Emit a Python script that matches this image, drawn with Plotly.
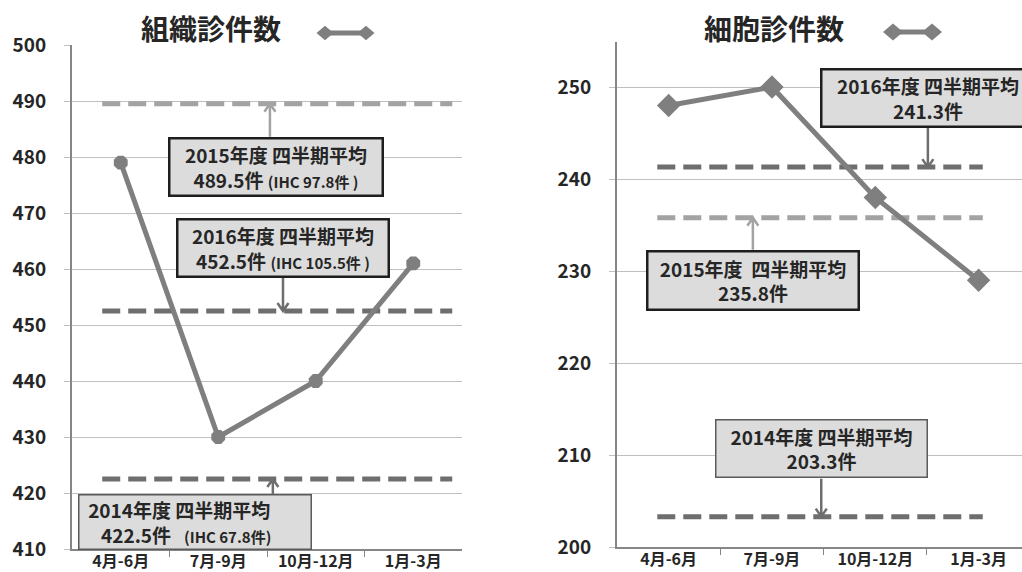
import plotly.graph_objects as go

W, H = 1022, 572
FONT = "Noto Sans CJK JP"
TXT = "#262626"

# Quarterly case counts
quarters = ["4月-6月", "7月-9月", "10月-12月", "1月-3月"]
histology = [479, 430, 440, 461]
cytology = [248, 250, 238, 229]

# Fiscal-year quarterly averages
years = [2014, 2015, 2016]
histology_avg = [422.5, 489.5, 452.5]
histology_ihc = [67.8, 97.8, 105.5]
cytology_avg = [203.3, 235.8, 241.3]

LINE = "#7f7f7f"
DARK_DASH = "#6e6e6e"
LIGHT_DASH = "#a3a3a3"
avg_colors = [DARK_DASH, LIGHT_DASH, DARK_DASH]


def px(x):
    return x / W


def py(y):
    return 1 - y / H


fig = go.Figure()
xs = list(range(len(quarters)))

# average lines (dashed)
for v, c in zip(histology_avg, avg_colors):
    fig.add_trace(go.Scatter(x=[-0.19, 3.40], y=[v, v], mode="lines",
                             line=dict(color=c, width=5, dash="18px,8px"),
                             xaxis="x", yaxis="y", hoverinfo="skip"))
for v, c in zip(cytology_avg, avg_colors):
    fig.add_trace(go.Scatter(x=[-0.11, 3.04], y=[v, v], mode="lines",
                             line=dict(color=c, width=5, dash="18px,8px"),
                             xaxis="x2", yaxis="y2", hoverinfo="skip"))

# quarterly series
fig.add_trace(go.Scatter(x=xs, y=histology, mode="lines+markers",
                         line=dict(color=LINE, width=5),
                         marker=dict(symbol="octagon", size=15, color=LINE),
                         xaxis="x", yaxis="y"))
fig.add_trace(go.Scatter(x=xs, y=cytology, mode="lines+markers",
                         line=dict(color=LINE, width=5),
                         marker=dict(symbol="diamond", size=18, color=LINE),
                         xaxis="x2", yaxis="y2"))

grid = "#c0c0c0"
axis_line = "#868686"
tickfont = dict(family=FONT, size=19, color=TXT, weight="bold")
xtickfont = dict(family=FONT, size=16, color=TXT, weight="bold")


def xaxis(domain, rng, anchor):
    return dict(domain=domain, range=rng, anchor=anchor, automargin=False,
                tickmode="array", tickvals=xs,
                ticktext=quarters, showgrid=False, zeroline=False,
                showline=True, linecolor=axis_line, linewidth=1.5,
                ticks="", tickfont=xtickfont, ticklabelstandoff=-3,
                minor=dict(tickmode="array", tickvals=[0.5, 1.5, 2.5],
                           ticks="outside", ticklen=6, tickcolor=axis_line,
                           tickwidth=1, showgrid=False))


def yaxis(domain, rng, anchor):
    return dict(domain=domain, range=rng, anchor=anchor, automargin=False,
                dtick=10, tick0=0,
                showgrid=True, gridcolor=grid, gridwidth=1.3, zeroline=False,
                showline=True, linecolor=axis_line, linewidth=2,
                ticks="outside", ticklen=6, tickcolor=grid,
                tickfont=tickfont, ticklabelstandoff=14)


fig.update_layout(
    width=W, height=H, margin=dict(l=0, r=0, t=0, b=0, autoexpand=False),
    paper_bgcolor="white", plot_bgcolor="white", showlegend=False,
    xaxis=xaxis([px(72), px(462)], [-0.5, 3.5], "y"),
    yaxis=yaxis([py(549), py(45)], [410, 500], "x"),
    xaxis2=xaxis([px(617), 1.0], [-0.5, 3.42], "y2"),
    yaxis2=yaxis([py(547), py(42)], [200, 254.9], "x2"),
)

annotations = []
shapes = []

# titles
for cx, title in [(211, "組織診件数"), (774, "細胞診件数")]:
    annotations.append(dict(xref="paper", yref="paper", x=px(cx), y=py(28),
                            xanchor="center", yanchor="middle", showarrow=False,
                            text=f"<b>{title}</b>",
                            font=dict(family=FONT, size=28, color=TXT)))

# legend glyphs: diamond - line - diamond
for x0, x1, yc, r in [(325, 366, 33, 8.5), (893, 932, 32, 10)]:
    shapes.append(dict(type="line", xref="paper", yref="paper",
                       x0=px(x0), x1=px(x1), y0=py(yc), y1=py(yc),
                       line=dict(color=LINE, width=5)))
    for cx in (x0, x1):
        path = (f"M {px(cx - r)} {py(yc)} L {px(cx)} {py(yc - r * 0.85)} "
                f"L {px(cx + r)} {py(yc)} L {px(cx)} {py(yc + r * 0.85)} Z")
        shapes.append(dict(type="path", xref="paper", yref="paper", path=path,
                           fillcolor=LINE, line=dict(color=LINE, width=0)))


def box(cx, cy, w, h, text, border, bw, align="center"):
    return dict(xref="paper", yref="paper", x=px(cx), y=py(cy),
                xanchor="center", yanchor="middle", text=text, showarrow=False,
                bgcolor="#dcdcdc", bordercolor=border, borderwidth=bw,
                borderpad=0, width=w - 2 * bw, height=h - 2 * bw, align=align,
                font=dict(family=FONT, size=19, color=TXT))


def arrow(xd, v, length, color, xr, yr):
    """Open-chevron arrow pointing at (xd, v); positive length = tail below."""
    s = -1 if length > 0 else 1
    L = abs(length)
    path = (f"M 0 {s * L} L 0 0 M -5.5 {s * 8} L 0 0 L 5.5 {s * 8}")
    return dict(type="path", xref=xr, yref=yr, xsizemode="pixel",
                ysizemode="pixel", xanchor=xd, yanchor=v, path=path,
                line=dict(color=color, width=2.5))


small = "<span style='font-size:15px'>"
sp = "\u00a0"

# histology average boxes
h14, h15, h16 = histology_avg
i14, i15, i16 = histology_ihc
annotations += [
    box(276, 167, 216, 60,
        f"<b>{years[1]}年度 四半期平均<br>{h15}件 {small}(IHC {i15}件 )</span></b>",
        "#1e1e1e", 2.5),
    box(283, 248, 214, 60,
        f"<b>{years[2]}年度 四半期平均<br>{h16}件 {small}(IHC {i16}件 )</span></b>",
        "#1e1e1e", 2.5),
    box(195, 522, 234, 56,
        f"<b>{sp * 2}{years[0]}年度 四半期平均<br>{sp * 5}{h14}件{sp * 3}{small}(IHC {i14}件)</span></b>",
        "#5a5a5a", 1.5, align="left"),
]
shapes += [
    arrow(1.53, h15, 33, LIGHT_DASH, "x", "y"),
    arrow(1.664, h16, -33, DARK_DASH, "x", "y"),
    arrow(1.56, h14, 15, DARK_DASH, "x", "y"),
]

# cytology average boxes
c14, c15, c16 = cytology_avg
annotations += [
    box(928, 98, 216, 60, f"<b>{years[2]}年度 四半期平均<br>{c16}件</b>",
        "#1e1e1e", 2.5),
    box(753, 280, 214, 61, f"<b>{years[1]}年度{sp} 四半期平均<br>{c15}件</b>",
        "#1e1e1e", 2.5),
    box(821, 448, 213, 59, f"<b>{years[0]}年度 四半期平均<br>{c14}件</b>",
        "#5a5a5a", 1.5),
]
shapes += [
    arrow(2.509, c16, -39, DARK_DASH, "x2", "y2"),
    arrow(0.815, c15, 32, LIGHT_DASH, "x2", "y2"),
    arrow(1.477, c14, -38, DARK_DASH, "x2", "y2"),
]

fig.update_layout(annotations=annotations, shapes=shapes)
fig.write_html("out.html")
